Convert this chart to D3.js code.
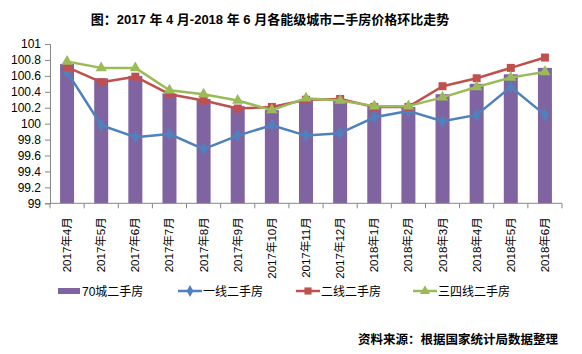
<!DOCTYPE html>
<html>
<head>
<meta charset="utf-8">
<script src="https://cdn.jsdelivr.net/npm/d3@7"></script>
<style>
  body { margin: 0; background: #fff; }
  text { font-family: "Liberation Sans", "Noto Sans CJK SC", sans-serif; }
</style>
</head>
<body>
<div id="chart"></div>
<script>
const months = ["2017年4月", "2017年5月", "2017年6月", "2017年7月", "2017年8月", "2017年9月",
  "2017年10月", "2017年11月", "2017年12月", "2018年1月", "2018年2月", "2018年3月",
  "2018年4月", "2018年5月", "2018年6月"];
const city70 = [100.75, 100.57, 100.60, 100.38, 100.31, 100.22, 100.17, 100.29, 100.30, 100.21, 100.21, 100.37, 100.50, 100.62, 100.70];
const tier1 = [100.65, 99.98, 99.83, 99.87, 99.68, 99.85, 99.98, 99.85, 99.88, 100.08, 100.16, 100.03, 100.11, 100.46, 100.11];
const tier2 = [100.71, 100.52, 100.59, 100.37, 100.29, 100.19, 100.21, 100.30, 100.31, 100.21, 100.21, 100.47, 100.57, 100.70, 100.83];
const tier34 = [100.78, 100.70, 100.70, 100.42, 100.37, 100.29, 100.17, 100.32, 100.29, 100.22, 100.22, 100.33, 100.46, 100.58, 100.65];
const yTicks = [99, 99.2, 99.4, 99.6, 99.8, 100, 100.2, 100.4, 100.6, 100.8, 101];

const W = 582, H = 354;
const plotLeft = 50, plotRight = 562, plotTop = 44, plotBottom = 203.3;

const svg = d3.select("#chart").append("svg")
  .attr("width", W).attr("height", H);

// title
svg.append("text")
  .attr("x", 270).attr("y", 24)
  .attr("text-anchor", "middle")
  .attr("font-size", "13px").attr("font-weight", "bold")
  .attr("fill", "#000")
  .text("图：2017 年 4 月-2018 年 6 月各能级城市二手房价格环比走势");

const x = d3.scaleBand().domain(months).range([plotLeft, plotRight]).paddingInner(0.59).paddingOuter(0.295);
const xb = d3.scaleBand().domain(months).range([plotLeft, plotRight]);
const y = d3.scaleLinear().domain([99, 101]).range([plotBottom, plotTop]);

// y axis
const yAxis = svg.append("g")
  .attr("transform", `translate(${plotLeft},0)`)
  .call(d3.axisLeft(y).tickValues(yTicks).tickSize(5).tickFormat(d => String(+d.toFixed(1))));
yAxis.select(".domain").attr("stroke", "#868686");
yAxis.selectAll(".tick line").attr("stroke", "#868686");
yAxis.selectAll(".tick text")
  .attr("font-size", "12px").attr("fill", "#000").attr("x", -9);

// bars
svg.append("g").selectAll("rect")
  .data(city70)
  .join("rect")
    .attr("x", (d, i) => x(months[i]))
    .attr("y", d => y(d))
    .attr("width", x.bandwidth())
    .attr("height", d => y(99) - y(d))
    .attr("fill", "#8064A2");

// x axis with ticks at band edges
const xg = svg.append("g").attr("transform", `translate(0,${plotBottom})`);
xg.append("line")
  .attr("x1", plotLeft).attr("x2", plotRight)
  .attr("stroke", "#868686");
xg.selectAll("line.tk")
  .data(d3.range(months.length + 1))
  .join("line")
    .attr("class", "tk")
    .attr("x1", i => plotLeft + i * xb.bandwidth())
    .attr("x2", i => plotLeft + i * xb.bandwidth())
    .attr("y1", 0).attr("y2", 5)
    .attr("stroke", "#868686");
xg.selectAll("text")
  .data(months)
  .join("text")
    .attr("transform", d => `translate(${xb(d) + xb.bandwidth() / 2 + 4},14) rotate(-90)`)
    .attr("text-anchor", "end")
    .attr("font-size", "11.5px")
    .attr("fill", "#000")
    .text(d => d);

// lines
const series = [
  { name: "一线二手房", values: tier1, color: "#4F81BD", shape: d3.symbolDiamond, size: 50 },
  { name: "二线二手房", values: tier2, color: "#C0504D", shape: d3.symbolSquare, size: 64 },
  { name: "三四线二手房", values: tier34, color: "#9BBB59", shape: d3.symbolTriangle, size: 55 }
];

const line = d3.line()
  .x((d, i) => xb(months[i]) + xb.bandwidth() / 2)
  .y(d => y(d));

series.forEach(s => {
  const g = svg.append("g");
  g.append("path")
    .attr("d", line(s.values))
    .attr("fill", "none")
    .attr("stroke", s.color)
    .attr("stroke-width", 2.5)
    .attr("stroke-linejoin", "round");
  g.selectAll("path.m")
    .data(s.values)
    .join("path")
      .attr("class", "m")
      .attr("transform", (d, i) => `translate(${xb(months[i]) + xb.bandwidth() / 2},${y(d)})`)
      .attr("d", d3.symbol().type(s.shape).size(s.size))
      .attr("fill", s.color);
});

// legend
const ly = 291;
const lg = svg.append("g");
lg.append("rect")
  .attr("x", 58).attr("y", ly - 3).attr("width", 22).attr("height", 6)
  .attr("fill", "#8064A2");
lg.append("text")
  .attr("x", 82).attr("y", ly + 4.5)
  .attr("font-size", "12px").attr("fill", "#000")
  .text("70城二手房");

const legendX = [178, 296, 413];
series.forEach((s, i) => {
  const lx = legendX[i];
  lg.append("line")
    .attr("x1", lx).attr("x2", lx + 24)
    .attr("y1", ly).attr("y2", ly)
    .attr("stroke", s.color).attr("stroke-width", 2.5);
  lg.append("path")
    .attr("transform", `translate(${lx + 12},${ly})`)
    .attr("d", d3.symbol().type(s.shape).size(s.size * 0.8))
    .attr("fill", s.color);
  lg.append("text")
    .attr("x", lx + 25).attr("y", ly + 4.5)
    .attr("font-size", "12px").attr("fill", "#000")
    .text(s.name);
});

// source note
svg.append("text")
  .attr("x", 558).attr("y", 344)
  .attr("text-anchor", "end")
  .attr("font-size", "12.5px").attr("font-weight", "bold")
  .attr("fill", "#000")
  .text("资料来源：根据国家统计局数据整理");
</script>
</body>
</html>
